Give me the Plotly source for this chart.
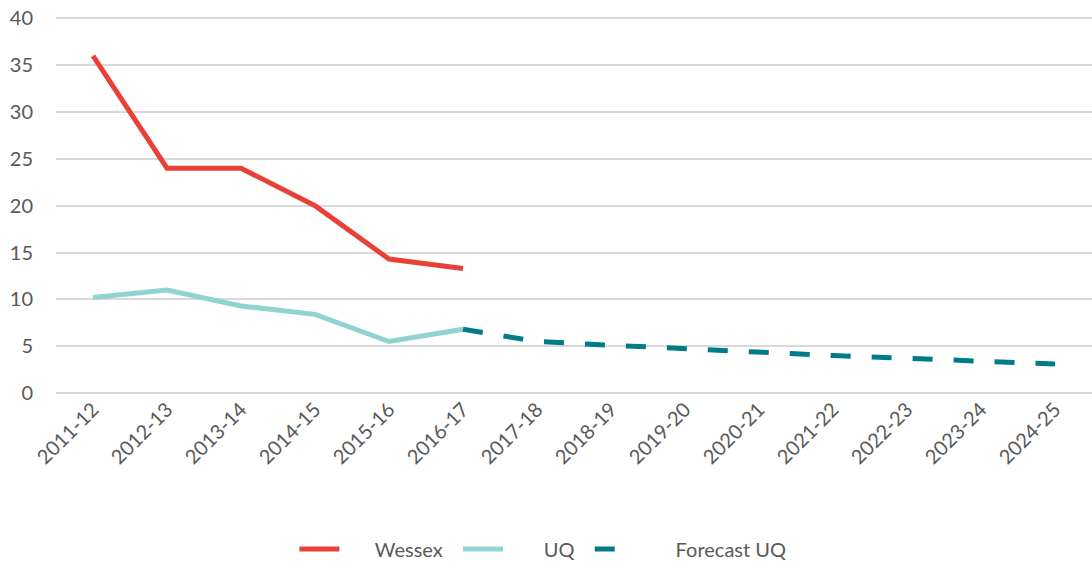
import plotly.graph_objects as go

# Data
years = ["2011-12", "2012-13", "2013-14", "2014-15", "2015-16", "2016-17", "2017-18",
         "2018-19", "2019-20", "2020-21", "2021-22", "2022-23", "2023-24", "2024-25"]
wessex = [36, 24, 24, 20, 14.3, 13.3, None, None, None, None, None, None, None, None]
uq = [10.2, 11, 9.3, 8.4, 5.5, 6.8, None, None, None, None, None, None, None, None]
forecast_uq = [None, None, None, None, None, 6.8, 5.5, 5.1, 4.7, 4.3, 4.0, 3.7, 3.4, 3.1]

FONT = "Lato, 'Open Sans', sans-serif"
TEXT = "#595959"
PAD = "\u00a0"  # pads legend entries so spacing looks like the original

fig = go.Figure()
fig.add_trace(go.Scatter(x=years, y=wessex, mode="lines", name=PAD * 6 + "Wessex" + PAD * 2,
                         line=dict(color="#E8413A", width=5)))
fig.add_trace(go.Scatter(x=years, y=uq, mode="lines", name=PAD * 7 + "UQ" + PAD * 2,
                         line=dict(color="#90D3D0", width=5)))
fig.add_trace(go.Scatter(x=years, y=forecast_uq, mode="lines", name=PAD * 7 + "Forecast UQ",
                         line=dict(color="#007C88", width=5, dash="20px,21px")))

fig.update_layout(
    width=1092, height=569,
    margin=dict(l=56, r=0, t=17, b=170),
    plot_bgcolor="white", paper_bgcolor="white",
    font=dict(family=FONT, size=20, color=TEXT),
    showlegend=True,
    legend=dict(orientation="h", x=0.47, xanchor="center", y=-0.415, yanchor="middle",
                font=dict(size=20, color=TEXT), itemwidth=40, traceorder="normal"),
)
fig.update_xaxes(
    type="category", range=[-0.5, 13.5], tickangle=-45, automargin=False,
    showgrid=False, showline=False, ticks="",
    tickfont=dict(size=20, color=TEXT),
)
fig.update_yaxes(
    range=[0, 40.15], tickvals=[0, 5, 10, 15, 20, 25, 30, 35, 40],
    showgrid=True, gridcolor="#D9D9D9", gridwidth=1.5,
    zeroline=True, zerolinecolor="#D9D9D9", zerolinewidth=1.5, automargin=False,
    showline=False, ticks="", ticklabelstandoff=22,
    tickfont=dict(size=20, color=TEXT),
)

# drop the default page margin so the figure fills the window exactly
fig.write_html("out.html", config={"displayModeBar": False},
               post_script="document.body.style.margin='0';document.body.style.overflow='hidden';")
